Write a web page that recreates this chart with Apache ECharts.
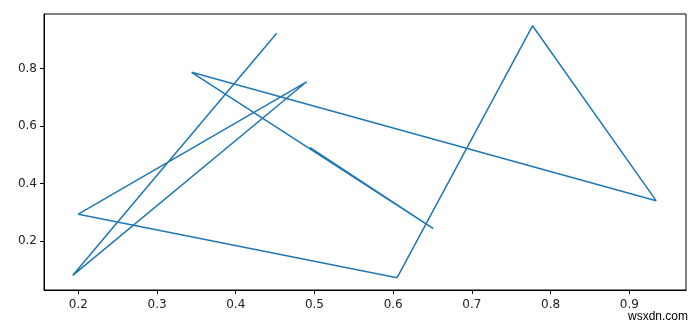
<!DOCTYPE html>
<html>
<head>
<meta charset="utf-8">
<script src="https://cdn.jsdelivr.net/npm/echarts@6/dist/echarts.min.js"></script>
<style>html,body{margin:0;padding:0;background:#fff;}#c{width:700px;height:327px;}</style>
</head>
<body>
<div id="c"></div>
<script>
var xValues = [0.452, 0.193, 0.490, 0.200, 0.605, 0.777, 0.934, 0.344, 0.651, 0.494];
var yValues = [0.923, 0.080, 0.754, 0.293, 0.072, 0.949, 0.340, 0.787, 0.243, 0.526];
var xTicks = [0.2, 0.3, 0.4, 0.5, 0.6, 0.7, 0.8, 0.9];
var yTicks = [0.2, 0.4, 0.6, 0.8];

var data = xValues.map(function (x, i) { return [x, yValues[i]]; });
var font = 'DejaVu Sans';
var chart = echarts.init(document.getElementById('c'), null, {renderer: 'canvas'});
chart.setOption({
  animation: false,
  backgroundColor: '#fff',
  grid: {left: 44, top: 14, right: 14, bottom: 37, show: true, borderColor: '#000', borderWidth: 1, backgroundColor: 'transparent'},
  xAxis: {
    type: 'value', min: 0.1564, max: 0.972,
    splitLine: {show: false},
    axisLine: {show: true, onZero: false, lineStyle: {color: '#000', width: 1}},
    axisTick: {show: true, length: 4, lineStyle: {color: '#000'}, customValues: xTicks},
    axisLabel: {color: '#222', fontFamily: font, fontSize: 12, margin: 9, customValues: xTicks,
      formatter: function (v) { return v.toFixed(1); }}
  },
  yAxis: {
    type: 'value', min: 0.029, max: 0.99,
    splitLine: {show: false},
    axisLine: {show: true, onZero: false, lineStyle: {color: '#000', width: 1}},
    axisTick: {show: true, length: 4, lineStyle: {color: '#000'}, customValues: yTicks},
    axisLabel: {color: '#222', fontFamily: font, fontSize: 12, margin: 7, customValues: yTicks,
      formatter: function (v) { return v.toFixed(1); }}
  },
  series: [{
    type: 'line', data: data, showSymbol: false, symbol: 'none',
    lineStyle: {color: '#1f77b4', width: 1.5}, clip: true
  }],
  graphic: [{
    type: 'text', right: 12, bottom: 4,
    style: {text: 'wsxdn.com', fill: '#000', font: '12px "Liberation Sans"'}
  }]
});
</script>
</body>
</html>
